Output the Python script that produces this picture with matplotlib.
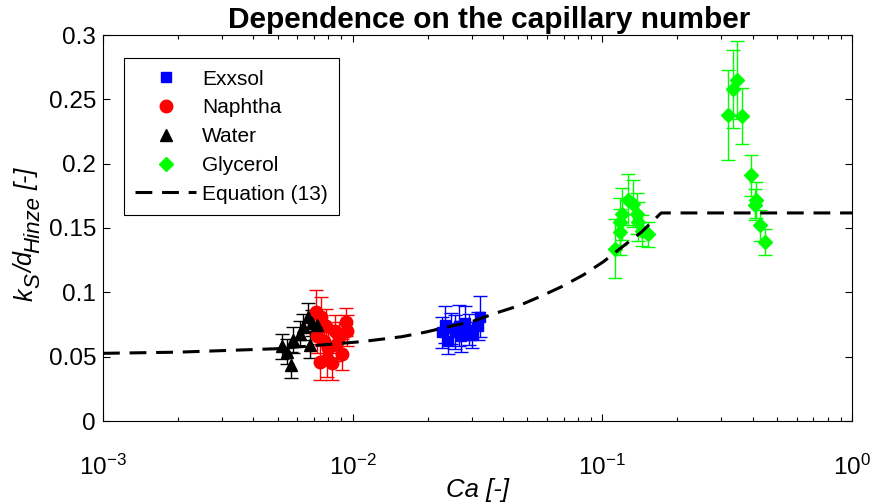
import matplotlib
matplotlib.use("Agg")
import matplotlib.pyplot as plt
from matplotlib.ticker import FixedLocator, FuncFormatter, LogLocator
import numpy as np

plt.rcParams['font.family'] = 'Liberation Sans'
plt.rcParams['mathtext.fontset'] = 'custom'
plt.rcParams['mathtext.rm'] = 'Liberation Sans'
plt.rcParams['mathtext.it'] = 'Liberation Sans:italic'
plt.rcParams['mathtext.bf'] = 'Liberation Sans:bold'

# Exxsol
exxsol_ca = [0.0228, 0.0234, 0.0240, 0.0247, 0.0257, 0.0266, 0.0272, 0.0283, 0.0292, 0.0301, 0.0318, 0.0325]
exxsol_ks = [0.069, 0.075, 0.062, 0.072, 0.069, 0.074, 0.066, 0.076, 0.071, 0.067, 0.074, 0.081]
exxsol_err = [0.012, 0.014, 0.010, 0.012, 0.013, 0.016, 0.012, 0.013, 0.012, 0.010, 0.011, 0.016]

# Naphtha
naphtha_ca = [0.0071, 0.0072, 0.0074, 0.0075, 0.0077, 0.0078, 0.0079, 0.0080, 0.0083,
              0.0085, 0.0086, 0.0088, 0.0091, 0.0094, 0.0095]
naphtha_ks = [0.085, 0.066, 0.046, 0.081, 0.062, 0.074, 0.048, 0.057, 0.045,
              0.070, 0.059, 0.065, 0.052, 0.077, 0.070]
naphtha_err = [0.017, 0.013, 0.014, 0.015, 0.012, 0.013, 0.014, 0.012, 0.013,
               0.012, 0.012, 0.012, 0.012, 0.011, 0.012]

# Water
water_ca = [0.0052, 0.00544, 0.00565, 0.00578, 0.00615, 0.00634, 0.00664, 0.00675, 0.00686, 0.00718]
water_ks = [0.058, 0.054, 0.0435, 0.063, 0.068, 0.0733, 0.081, 0.059, 0.076, 0.0746]
water_err = [0.010, 0.010, 0.010, 0.010, 0.010, 0.010, 0.011, 0.010, 0.010, 0.010]

# Glycerol
glycerol_ca = [0.1123, 0.1177, 0.1177, 0.1195, 0.1270, 0.1330, 0.1372, 0.1392, 0.1437, 0.1526,
               0.3191, 0.3343, 0.3469, 0.3614, 0.3926, 0.4084, 0.4122, 0.4277, 0.4479]
glycerol_ks = [0.134, 0.147, 0.155, 0.161, 0.172, 0.169, 0.161, 0.155, 0.148, 0.145,
               0.238, 0.258, 0.265, 0.237, 0.191, 0.168, 0.172, 0.152, 0.139]
glycerol_err = [0.023, 0.018, 0.018, 0.020, 0.020, 0.018, 0.016, 0.015, 0.012, 0.010,
                0.035, 0.030, 0.030, 0.022, 0.016, 0.012, 0.014, 0.012, 0.010]

# Equation (13)
eq_ca = [0.001, 0.002, 0.005, 0.0109, 0.0157, 0.0195, 0.0242, 0.030, 0.0372, 0.046,
         0.0562, 0.0687, 0.0839, 0.101, 0.122, 0.144, 0.172, 1.0]
eq_ks = [0.0526, 0.0535, 0.0562, 0.0617, 0.0655, 0.0690, 0.0733, 0.0772, 0.0837, 0.0894,
         0.0966, 0.1044, 0.1135, 0.1238, 0.1363, 0.1471, 0.1617, 0.1617]

W, H = 872, 504
fig = plt.figure(figsize=(W / 100, H / 100), dpi=100)
ax = fig.add_axes([103 / W, 1 - 421 / H, 749 / W, 386 / H])

eb_kw = dict(linestyle='none', elinewidth=1.0, capsize=5, capthick=1.0)
h_ex = ax.errorbar(exxsol_ca, exxsol_ks, yerr=exxsol_err, fmt='s', color=(0, 0, 1),
                   markersize=7, **eb_kw)
h_na = ax.errorbar(naphtha_ca, naphtha_ks, yerr=naphtha_err, fmt='o', color=(1, 0, 0),
                   markersize=9, **eb_kw)
h_wa = ax.errorbar(water_ca, water_ks, yerr=water_err, fmt='^', color='k',
                   markersize=9, **eb_kw)
h_gl = ax.errorbar(glycerol_ca, glycerol_ks, yerr=glycerol_err, fmt='D', color=(0, 1, 0),
                   markersize=7.5, **eb_kw)
h_eq, = ax.plot(eq_ca, eq_ks, color='k', lw=2.2, dashes=(5.5, 3.2), zorder=5)

ax.set_xscale('log')
ax.set_xlim(1e-3, 1)
ax.set_ylim(0, 0.3)
ax.yaxis.set_major_locator(FixedLocator([0, 0.05, 0.1, 0.15, 0.2, 0.25, 0.3]))
ax.yaxis.set_major_formatter(FuncFormatter(lambda v, p: '%g' % round(v, 3)))
ax.xaxis.set_major_locator(LogLocator(base=10, numticks=10))
ax.xaxis.set_minor_locator(LogLocator(base=10, subs=np.arange(2, 10), numticks=10))

ax.tick_params(which='both', direction='in', top=True, right=True, labelsize=17.5, width=0.8)
ax.tick_params(which='major', length=5)
ax.tick_params(which='minor', length=3)
ax.tick_params(axis='x', which='major', pad=24)
ax.tick_params(axis='y', which='major', pad=5)
for s in ax.spines.values():
    s.set_linewidth(0.8)

ax.set_title('Dependence on the capillary number', fontsize=21.5, fontweight='bold',
             x=0.515, pad=5)
ax.set_xlabel('Ca [-]', fontsize=18.5, style='italic', labelpad=-1)

# y label assembled piece by piece so the subscripts keep a large size
fig.canvas.draw()
renderer = fig.canvas.get_renderer()
pieces = [('k', 18, 0, 0), ('S', 16, 6, 0), ('/d', 18, 0, 0), ('Hinze', 16, 6, 0), ('[-]', 18, 0, 6)]
widths = []
for txt, size, drop, gap in pieces:
    t = fig.text(0, 0, txt, fontsize=size, style='italic')
    widths.append(t.get_window_extent(renderer).width + gap)
    t.remove()
y_pos = (H - 234) - sum(widths) / 2
for (txt, size, drop, gap), w in zip(pieces, widths):
    fig.text((33 + drop) / W, (y_pos + gap) / H, txt, fontsize=size, style='italic',
             rotation=90, rotation_mode='anchor', ha='left', va='baseline')
    y_pos += w

leg = ax.legend([h_ex[0], h_na[0], h_wa[0], h_gl[0], h_eq],
                ['Exxsol', 'Naphtha', 'Water', 'Glycerol', 'Equation (13)'],
                loc='upper left', bbox_to_anchor=(0.028, 0.94), borderaxespad=0,
                fontsize=15, handlelength=2.9, handletextpad=0.3, labelspacing=0.47,
                borderpad=0.55, fancybox=False, edgecolor='k', framealpha=1)
leg.get_frame().set_linewidth(0.8)

fig.savefig('out.png', dpi=100)
